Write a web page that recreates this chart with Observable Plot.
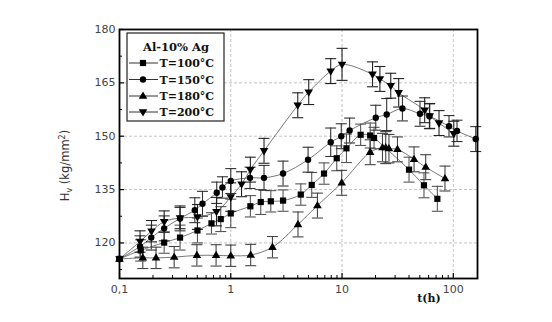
<!DOCTYPE html>
<html><head><meta charset="utf-8">
<script src="https://cdn.jsdelivr.net/npm/d3@7"></script>
<script src="https://cdn.jsdelivr.net/npm/@observablehq/plot@0.6"></script>
<style>
body{margin:0;background:#fff}
#chart{width:552px;height:322px}
</style>
</head><body><div id="chart"></div>
<script>
// ---- data ----
const seriesNames = ["T=100°C", "T=150°C", "T=180°C", "T=200°C"];
const legendTitle = "Al-10% Ag";
const xLabel = "t(h)";

const t100  = [0.1, 0.155, 0.252, 0.35, 0.502, 0.671, 0.813, 1.0, 1.5, 1.86, 2.29, 2.95, 4.26, 5.34, 6.89, 8.96, 10.96, 14.7, 17.9, 19.4, 40, 54.5, 71.9];
const hv100 = [115.5, 117.9, 120.1, 121.5, 123.5, 125.5, 126.7, 128.3, 130.3, 131.5, 131.7, 131.9, 133.6, 136.3, 139.5, 143.8, 146.6, 150.4, 150.2, 149.5, 140.6, 136.2, 132.4];
const err100 = [0, 3, 3, 3.5, 3.5, 3, 3.5, 4, 3, 3.5, 3, 3, 3, 3.5, 3, 3.5, 4, 3, 3.5, 3, 3.5, 3.5, 3.5];

const t150  = [0.1, 0.153, 0.193, 0.252, 0.35, 0.475, 0.557, 0.748, 0.842, 1.0, 1.49, 1.99, 2.95, 4.95, 7.91, 9.84, 11.7, 20.1, 25.2, 34.9, 50.2, 61.0, 91.5, 108, 159];
const hv150 = [115.5, 119.0, 121.5, 124.1, 126.9, 129.2, 131.0, 134.1, 135.6, 137.4, 138.3, 138.3, 139.5, 143.4, 148.3, 150.0, 151.6, 155.2, 156.1, 157.8, 156.3, 155.6, 152.8, 151.5, 149.2];
const err150 = [0, 3, 3.5, 3.5, 3.5, 3.5, 3.5, 3, 3, 3.5, 3, 3.5, 3.5, 3.5, 4, 3.5, 3.5, 3.5, 4.5, 3.5, 3.5, 3.5, 3, 3, 3.5];

const t180  = [0.1, 0.162, 0.213, 0.31, 0.496, 0.738, 1.0, 1.51, 2.37, 4.02, 6.01, 9.93, 17.9, 23.1, 24.7, 26.4, 31.5, 44.4, 56.5, 84.2];
const hv180 = [115.5, 115.8, 115.8, 116.0, 116.5, 116.5, 116.4, 116.6, 118.8, 125.2, 130.5, 136.9, 145.5, 146.8, 146.8, 146.5, 146.3, 143.5, 141.3, 138.1];
const err180 = [0, 3, 3, 3, 3, 3, 3, 3, 3, 3.5, 3.5, 3.5, 3.5, 4, 4.5, 4, 3.5, 3.5, 3.5, 3.5];

const t200  = [0.1, 0.153, 0.194, 0.252, 0.35, 0.502, 0.744, 1.0, 1.25, 1.5, 1.99, 4.0, 5.02, 7.91, 10, 18.8, 21.9, 27.4, 32.3, 55.3, 61.4, 74.4, 101];
const hv200 = [115.5, 120.4, 123.3, 126.0, 127.0, 127.3, 128.8, 132.9, 136.5, 140.6, 145.9, 158.7, 162.4, 168.3, 170.2, 167.4, 166.1, 164.2, 162.2, 157.3, 155.7, 153.7, 150.7];
const err200 = [0, 3, 3, 3, 3, 3.5, 4, 4, 3.5, 3.5, 3.5, 3.5, 3.5, 3.5, 4.5, 3.5, 3.5, 3.5, 4, 3.5, 3.5, 3.5, 3.5];

const xTicks = [0.1, 1, 10, 100];
const xTickLabels = ["0,1", "1", "10", "100"];
const xMinor = [0.2,0.3,0.4,0.5,0.6,0.7,0.8,0.9, 2,3,4,5,6,7,8,9, 20,30,40,50,60,70,80,90];
const yTicks = [120, 135, 150, 165, 180];
const yMinor = [112.5, 127.5, 142.5, 157.5, 172.5];
const xDomain = [0.1, 165];
const yDomain = [110, 180];

// ---- layout ----
const W = 552, H = 322;
const mL = 119, mR = 75, mT = 29, mB = 44;
const plotW = W - mL - mR, plotH = H - mT - mB;

function rows(ts, vs, es) {
  return ts.map((t, i) => ({t, v: vs[i], e: es[i], lo: vs[i] - es[i], hi: vs[i] + es[i]}));
}
const data = [rows(t100, hv100, err100), rows(t150, hv150, err150), rows(t180, hv180, err180), rows(t200, hv200, err200)];

// custom marker shapes
const sym = {
  square: {draw(c) { c.moveTo(-3.1, -3.1); c.lineTo(3.1, -3.1); c.lineTo(3.1, 3.1); c.lineTo(-3.1, 3.1); c.closePath(); }},
  circle: {draw(c) { c.moveTo(3.2, 0); c.arc(0, 0, 3.2, 0, 2 * Math.PI); c.closePath(); }},
  up:     {draw(c) { c.moveTo(0, -4.6); c.lineTo(4.3, 2.7); c.lineTo(-4.3, 2.7); c.closePath(); }},
  down:   {draw(c) { c.moveTo(0, 4.6); c.lineTo(4.3, -2.7); c.lineTo(-4.3, -2.7); c.closePath(); }},
  cap:    {draw(c) { c.moveTo(-5.5, 0); c.lineTo(5.5, 0); }}
};
const markers = [sym.square, sym.circle, sym.up, sym.down];
const barColors = ["#555", "#333", "#444", "#222"];

const marks = [
  Plot.ruleX(xTicks.slice(1), {stroke: "#bdbdbd", strokeDasharray: "3,2", strokeWidth: 0.9}),
  Plot.ruleY(yTicks.slice(0, 4), {stroke: "#bdbdbd", strokeDasharray: "3,2", strokeWidth: 0.9}),
];
data.forEach((d, i) => {
  marks.push(Plot.line(d, {x: "t", y: "v", curve: "catmull-rom", stroke: "#555", strokeWidth: 0.8}));
});
data.forEach((d, i) => {
  const withErr = d.filter(r => r.e > 0);
  marks.push(Plot.ruleX(withErr, {x: "t", y1: "lo", y2: "hi", stroke: barColors[i], strokeWidth: 1.1}));
  marks.push(Plot.dot(withErr, {x: "t", y: "hi", symbol: sym.cap, fill: "none", stroke: barColors[i], strokeWidth: 1.1}));
  marks.push(Plot.dot(withErr, {x: "t", y: "lo", symbol: sym.cap, fill: "none", stroke: barColors[i], strokeWidth: 1.1}));
});
data.forEach((d, i) => {
  marks.push(Plot.dot(d, {x: "t", y: "v", symbol: markers[i], fill: "#000", stroke: "none"}));
});
// inward ticks
marks.push(
  Plot.tickX(xTicks, {x: d => d, insetTop: plotH - 5, stroke: "#000", strokeWidth: 1.2}),
  Plot.tickX(xMinor, {x: d => d, insetTop: plotH - 3, stroke: "#000", strokeWidth: 1}),
  Plot.tickY(yTicks, {y: d => d, insetRight: plotW - 5, stroke: "#000", strokeWidth: 1.2}),
  Plot.tickY(yMinor, {y: d => d, insetRight: plotW - 3, stroke: "#000", strokeWidth: 1}),
  Plot.axisX({ticks: xTicks, tickSize: 0, tickPadding: 7, tickFormat: d => xTickLabels[xTicks.indexOf(d)], label: null, fill: "#444"}),
  Plot.axisY({ticks: yTicks, tickSize: 0, tickPadding: 4, label: null, fill: "#444"}),
  Plot.frame({stroke: "#000", strokeWidth: 1.8})
);

const chart = Plot.plot({
  width: W, height: H,
  marginLeft: mL, marginRight: mR, marginTop: mT, marginBottom: mB,
  x: {type: "log", domain: xDomain},
  y: {domain: yDomain},
  style: {fontFamily: "'DejaVu Sans', sans-serif", fontSize: "11px", background: "#fff"},
  marks
});
document.getElementById("chart").appendChild(chart);

// ---- labels and legend ----
const svg = d3.select(chart);
const yl = svg.append("text")
  .attr("transform", `translate(69,${(mT + H - mB) / 2 + 12}) rotate(-90)`)
  .attr("text-anchor", "middle")
  .attr("font-family", "'DejaVu Sans', sans-serif")
  .attr("font-size", 11.5).attr("fill", "#333");
yl.append("tspan").text("H");
yl.append("tspan").attr("font-size", 8).attr("dy", 3).text("v");
yl.append("tspan").attr("dy", -3).text(" (kg/mm");
yl.append("tspan").attr("font-size", 8).attr("dy", -4).text("2");
yl.append("tspan").attr("dy", 4).text(")");

svg.append("text")
  .attr("x", 429).attr("y", 302)
  .attr("text-anchor", "middle")
  .attr("font-family", "'DejaVu Serif', serif").attr("font-weight", "bold")
  .attr("font-size", 11).attr("fill", "#111")
  .text(xLabel);

const lg = svg.append("g");
lg.append("rect").attr("x", 127).attr("y", 33).attr("width", 97).attr("height", 88)
  .attr("fill", "#fff").attr("stroke", "#222").attr("stroke-width", 1.2);
lg.append("text").attr("x", 176).attr("y", 51).attr("text-anchor", "middle")
  .attr("font-family", "'DejaVu Serif', serif").attr("font-weight", "bold")
  .attr("font-size", 11.5).attr("fill", "#111").text(legendTitle);
const rowY = [63, 79.5, 96, 112];
seriesNames.forEach((name, i) => {
  const y = rowY[i];
  lg.append("line").attr("x1", 129).attr("x2", 158).attr("y1", y).attr("y2", y)
    .attr("stroke", "#333").attr("stroke-width", 1);
  lg.append("path").attr("d", d3.symbol(markers[i])()).attr("transform", `translate(143,${y})`).attr("fill", "#000");
  lg.append("text").attr("x", 159.5).attr("y", y + 4)
    .attr("text-anchor", "start")
    .attr("font-family", "'DejaVu Serif', serif").attr("font-weight", "bold")
    .attr("font-size", 11).attr("fill", "#111").text(name);
});
</script>
</body></html>
